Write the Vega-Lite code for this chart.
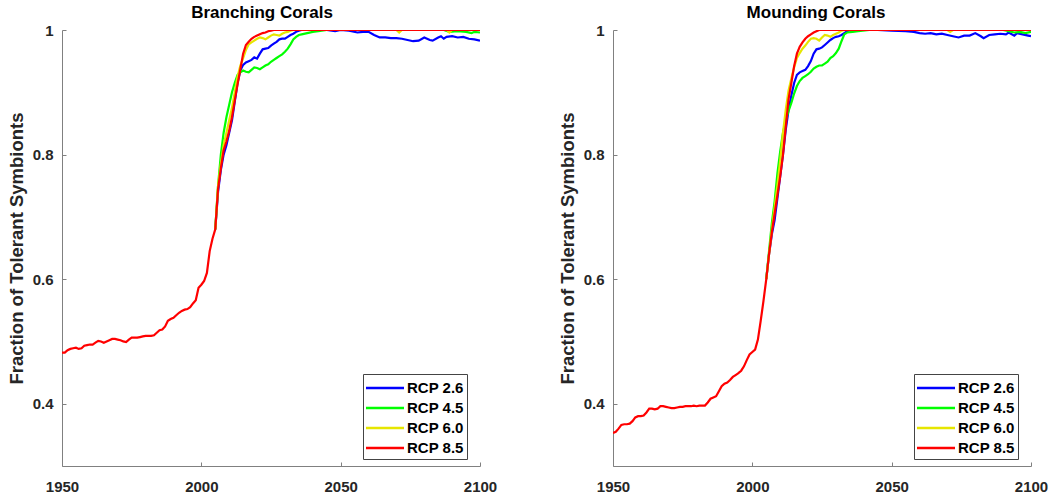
{
  "$schema": "https://vega.github.io/schema/vega-lite/v6.json",
  "padding": {"left": 7, "top": 4, "right": 5, "bottom": 2},
  "spacing": 61,
  "config": {
    "view": {"stroke": null},
    "font": "Liberation Sans",
    "axis": {
      "labelFont": "Liberation Sans", "labelFontWeight": "bold", "labelFontSize": 15, "labelColor": "#262626",
      "titleFont": "Liberation Sans", "titleFontWeight": "bold", "titleFontSize": 18.5, "titleColor": "#262626",
      "domainColor": "#808080", "tickColor": "#808080", "domainWidth": 1, "tickWidth": 1,
      "grid": false, "tickSize": -4, "labelFlush": false
    },
    "title": {"font": "Liberation Sans", "fontSize": 17, "fontWeight": "bold", "color": "#000000", "offset": 1},
    "legend": {
      "orient": "none", "legendX": 301, "legendY": 344, "title": null,
      "labelFont": "Liberation Sans", "labelFontWeight": "bold", "labelFontSize": 15, "labelColor": "#000000",
      "symbolType": "M-2,0H2", "symbolSize": 361, "symbolStrokeWidth": 2.5, "symbolOffset": 8,
      "strokeColor": "#444444", "fillColor": "#ffffff", "padding": 3, "rowPadding": 1, "labelOffset": 11
    }
  },
  "datasets": {
    "branching": [
      {"s":"RCP 2.6","year":2005,"v":0.680},{"s":"RCP 2.6","year":2006,"v":0.740},{"s":"RCP 2.6","year":2007,"v":0.775},{"s":"RCP 2.6","year":2008,"v":0.800},{"s":"RCP 2.6","year":2009,"v":0.815},{"s":"RCP 2.6","year":2010,"v":0.835},{"s":"RCP 2.6","year":2011,"v":0.855},{"s":"RCP 2.6","year":2012,"v":0.885},{"s":"RCP 2.6","year":2013,"v":0.915},{"s":"RCP 2.6","year":2014,"v":0.935},{"s":"RCP 2.6","year":2015,"v":0.944},{"s":"RCP 2.6","year":2016,"v":0.948},{"s":"RCP 2.6","year":2017,"v":0.950},{"s":"RCP 2.6","year":2018,"v":0.952},{"s":"RCP 2.6","year":2019,"v":0.956},{"s":"RCP 2.6","year":2020,"v":0.954},{"s":"RCP 2.6","year":2021,"v":0.962},{"s":"RCP 2.6","year":2022,"v":0.969},{"s":"RCP 2.6","year":2023,"v":0.970},{"s":"RCP 2.6","year":2024,"v":0.971},{"s":"RCP 2.6","year":2025,"v":0.975},{"s":"RCP 2.6","year":2026,"v":0.978},{"s":"RCP 2.6","year":2027,"v":0.981},{"s":"RCP 2.6","year":2028,"v":0.985},{"s":"RCP 2.6","year":2029,"v":0.986},{"s":"RCP 2.6","year":2030,"v":0.986},{"s":"RCP 2.6","year":2031,"v":0.989},{"s":"RCP 2.6","year":2032,"v":0.992},{"s":"RCP 2.6","year":2033,"v":0.994},{"s":"RCP 2.6","year":2034,"v":0.997},{"s":"RCP 2.6","year":2035,"v":0.999},{"s":"RCP 2.6","year":2036,"v":1.0},{"s":"RCP 2.6","year":2045,"v":1.0},{"s":"RCP 2.6","year":2048,"v":0.998},{"s":"RCP 2.6","year":2050,"v":1.0},{"s":"RCP 2.6","year":2053,"v":0.999},{"s":"RCP 2.6","year":2056,"v":0.996},{"s":"RCP 2.6","year":2058,"v":0.997},{"s":"RCP 2.6","year":2060,"v":0.997},{"s":"RCP 2.6","year":2062,"v":0.992},{"s":"RCP 2.6","year":2064,"v":0.988},{"s":"RCP 2.6","year":2066,"v":0.988},{"s":"RCP 2.6","year":2068,"v":0.987},{"s":"RCP 2.6","year":2070,"v":0.987},{"s":"RCP 2.6","year":2072,"v":0.986},{"s":"RCP 2.6","year":2074,"v":0.984},{"s":"RCP 2.6","year":2076,"v":0.982},{"s":"RCP 2.6","year":2078,"v":0.983},{"s":"RCP 2.6","year":2080,"v":0.988},{"s":"RCP 2.6","year":2082,"v":0.984},{"s":"RCP 2.6","year":2083,"v":0.983},{"s":"RCP 2.6","year":2085,"v":0.988},{"s":"RCP 2.6","year":2086,"v":0.990},{"s":"RCP 2.6","year":2087,"v":0.986},{"s":"RCP 2.6","year":2088,"v":0.989},{"s":"RCP 2.6","year":2090,"v":0.990},{"s":"RCP 2.6","year":2092,"v":0.988},{"s":"RCP 2.6","year":2094,"v":0.989},{"s":"RCP 2.6","year":2096,"v":0.986},{"s":"RCP 2.6","year":2098,"v":0.985},{"s":"RCP 2.6","year":2100,"v":0.983},
      {"s":"RCP 4.5","year":2005,"v":0.680},{"s":"RCP 4.5","year":2006,"v":0.750},{"s":"RCP 4.5","year":2007,"v":0.800},{"s":"RCP 4.5","year":2008,"v":0.835},{"s":"RCP 4.5","year":2009,"v":0.860},{"s":"RCP 4.5","year":2010,"v":0.880},{"s":"RCP 4.5","year":2011,"v":0.900},{"s":"RCP 4.5","year":2012,"v":0.915},{"s":"RCP 4.5","year":2013,"v":0.928},{"s":"RCP 4.5","year":2014,"v":0.932},{"s":"RCP 4.5","year":2015,"v":0.935},{"s":"RCP 4.5","year":2016,"v":0.933},{"s":"RCP 4.5","year":2017,"v":0.932},{"s":"RCP 4.5","year":2018,"v":0.936},{"s":"RCP 4.5","year":2019,"v":0.940},{"s":"RCP 4.5","year":2020,"v":0.939},{"s":"RCP 4.5","year":2021,"v":0.937},{"s":"RCP 4.5","year":2022,"v":0.940},{"s":"RCP 4.5","year":2023,"v":0.943},{"s":"RCP 4.5","year":2024,"v":0.945},{"s":"RCP 4.5","year":2025,"v":0.949},{"s":"RCP 4.5","year":2026,"v":0.952},{"s":"RCP 4.5","year":2027,"v":0.955},{"s":"RCP 4.5","year":2028,"v":0.958},{"s":"RCP 4.5","year":2029,"v":0.961},{"s":"RCP 4.5","year":2030,"v":0.965},{"s":"RCP 4.5","year":2031,"v":0.970},{"s":"RCP 4.5","year":2032,"v":0.977},{"s":"RCP 4.5","year":2033,"v":0.985},{"s":"RCP 4.5","year":2034,"v":0.989},{"s":"RCP 4.5","year":2035,"v":0.992},{"s":"RCP 4.5","year":2036,"v":0.993},{"s":"RCP 4.5","year":2038,"v":0.995},{"s":"RCP 4.5","year":2040,"v":0.997},{"s":"RCP 4.5","year":2042,"v":0.998},{"s":"RCP 4.5","year":2045,"v":1.0},{"s":"RCP 4.5","year":2087,"v":1.0},{"s":"RCP 4.5","year":2089,"v":0.997},{"s":"RCP 4.5","year":2092,"v":0.998},{"s":"RCP 4.5","year":2095,"v":0.997},{"s":"RCP 4.5","year":2097,"v":0.995},{"s":"RCP 4.5","year":2098,"v":0.997},{"s":"RCP 4.5","year":2100,"v":0.996},
      {"s":"RCP 6.0","year":2005,"v":0.680},{"s":"RCP 6.0","year":2006,"v":0.750},{"s":"RCP 6.0","year":2007,"v":0.785},{"s":"RCP 6.0","year":2008,"v":0.815},{"s":"RCP 6.0","year":2009,"v":0.835},{"s":"RCP 6.0","year":2010,"v":0.855},{"s":"RCP 6.0","year":2011,"v":0.875},{"s":"RCP 6.0","year":2012,"v":0.900},{"s":"RCP 6.0","year":2013,"v":0.925},{"s":"RCP 6.0","year":2014,"v":0.943},{"s":"RCP 6.0","year":2015,"v":0.955},{"s":"RCP 6.0","year":2016,"v":0.968},{"s":"RCP 6.0","year":2017,"v":0.977},{"s":"RCP 6.0","year":2018,"v":0.980},{"s":"RCP 6.0","year":2019,"v":0.983},{"s":"RCP 6.0","year":2020,"v":0.986},{"s":"RCP 6.0","year":2021,"v":0.988},{"s":"RCP 6.0","year":2022,"v":0.987},{"s":"RCP 6.0","year":2023,"v":0.985},{"s":"RCP 6.0","year":2024,"v":0.988},{"s":"RCP 6.0","year":2025,"v":0.991},{"s":"RCP 6.0","year":2026,"v":0.993},{"s":"RCP 6.0","year":2027,"v":0.992},{"s":"RCP 6.0","year":2028,"v":0.991},{"s":"RCP 6.0","year":2029,"v":0.994},{"s":"RCP 6.0","year":2030,"v":0.996},{"s":"RCP 6.0","year":2031,"v":0.997},{"s":"RCP 6.0","year":2032,"v":0.999},{"s":"RCP 6.0","year":2033,"v":1.0},{"s":"RCP 6.0","year":2070,"v":1.0},{"s":"RCP 6.0","year":2071,"v":0.996},{"s":"RCP 6.0","year":2072,"v":1.0},{"s":"RCP 6.0","year":2088,"v":1.0},{"s":"RCP 6.0","year":2089,"v":0.996},{"s":"RCP 6.0","year":2090,"v":1.0},{"s":"RCP 6.0","year":2100,"v":1.0},
      {"s":"RCP 8.5","year":1950,"v":0.482},{"s":"RCP 8.5","year":1951,"v":0.482},{"s":"RCP 8.5","year":1952,"v":0.486},{"s":"RCP 8.5","year":1953,"v":0.488},{"s":"RCP 8.5","year":1954,"v":0.489},{"s":"RCP 8.5","year":1955,"v":0.490},{"s":"RCP 8.5","year":1956,"v":0.488},{"s":"RCP 8.5","year":1957,"v":0.489},{"s":"RCP 8.5","year":1958,"v":0.493},{"s":"RCP 8.5","year":1959,"v":0.494},{"s":"RCP 8.5","year":1960,"v":0.495},{"s":"RCP 8.5","year":1961,"v":0.495},{"s":"RCP 8.5","year":1962,"v":0.498},{"s":"RCP 8.5","year":1963,"v":0.501},{"s":"RCP 8.5","year":1964,"v":0.500},{"s":"RCP 8.5","year":1965,"v":0.498},{"s":"RCP 8.5","year":1966,"v":0.500},{"s":"RCP 8.5","year":1967,"v":0.502},{"s":"RCP 8.5","year":1968,"v":0.504},{"s":"RCP 8.5","year":1969,"v":0.504},{"s":"RCP 8.5","year":1970,"v":0.503},{"s":"RCP 8.5","year":1971,"v":0.502},{"s":"RCP 8.5","year":1972,"v":0.500},{"s":"RCP 8.5","year":1973,"v":0.499},{"s":"RCP 8.5","year":1974,"v":0.503},{"s":"RCP 8.5","year":1975,"v":0.506},{"s":"RCP 8.5","year":1976,"v":0.506},{"s":"RCP 8.5","year":1977,"v":0.506},{"s":"RCP 8.5","year":1978,"v":0.507},{"s":"RCP 8.5","year":1979,"v":0.508},{"s":"RCP 8.5","year":1980,"v":0.509},{"s":"RCP 8.5","year":1981,"v":0.509},{"s":"RCP 8.5","year":1982,"v":0.509},{"s":"RCP 8.5","year":1983,"v":0.510},{"s":"RCP 8.5","year":1984,"v":0.514},{"s":"RCP 8.5","year":1985,"v":0.518},{"s":"RCP 8.5","year":1986,"v":0.519},{"s":"RCP 8.5","year":1987,"v":0.524},{"s":"RCP 8.5","year":1988,"v":0.533},{"s":"RCP 8.5","year":1989,"v":0.536},{"s":"RCP 8.5","year":1990,"v":0.538},{"s":"RCP 8.5","year":1991,"v":0.542},{"s":"RCP 8.5","year":1992,"v":0.546},{"s":"RCP 8.5","year":1993,"v":0.549},{"s":"RCP 8.5","year":1994,"v":0.551},{"s":"RCP 8.5","year":1995,"v":0.552},{"s":"RCP 8.5","year":1996,"v":0.555},{"s":"RCP 8.5","year":1997,"v":0.561},{"s":"RCP 8.5","year":1998,"v":0.566},{"s":"RCP 8.5","year":1999,"v":0.586},{"s":"RCP 8.5","year":2000,"v":0.591},{"s":"RCP 8.5","year":2001,"v":0.597},{"s":"RCP 8.5","year":2002,"v":0.610},{"s":"RCP 8.5","year":2003,"v":0.645},{"s":"RCP 8.5","year":2004,"v":0.665},{"s":"RCP 8.5","year":2005,"v":0.680},{"s":"RCP 8.5","year":2006,"v":0.745},{"s":"RCP 8.5","year":2007,"v":0.778},{"s":"RCP 8.5","year":2008,"v":0.807},{"s":"RCP 8.5","year":2009,"v":0.821},{"s":"RCP 8.5","year":2010,"v":0.838},{"s":"RCP 8.5","year":2011,"v":0.860},{"s":"RCP 8.5","year":2012,"v":0.887},{"s":"RCP 8.5","year":2013,"v":0.913},{"s":"RCP 8.5","year":2014,"v":0.937},{"s":"RCP 8.5","year":2015,"v":0.962},{"s":"RCP 8.5","year":2016,"v":0.976},{"s":"RCP 8.5","year":2017,"v":0.981},{"s":"RCP 8.5","year":2018,"v":0.986},{"s":"RCP 8.5","year":2019,"v":0.989},{"s":"RCP 8.5","year":2020,"v":0.991},{"s":"RCP 8.5","year":2021,"v":0.993},{"s":"RCP 8.5","year":2022,"v":0.995},{"s":"RCP 8.5","year":2023,"v":0.996},{"s":"RCP 8.5","year":2024,"v":0.998},{"s":"RCP 8.5","year":2025,"v":0.999},{"s":"RCP 8.5","year":2026,"v":1.0},{"s":"RCP 8.5","year":2060,"v":1.0},{"s":"RCP 8.5","year":2100,"v":1.0}
    ],
    "mounding": [
      {"s":"RCP 2.6","year":2005,"v":0.600},{"s":"RCP 2.6","year":2006,"v":0.640},{"s":"RCP 2.6","year":2007,"v":0.672},{"s":"RCP 2.6","year":2008,"v":0.695},{"s":"RCP 2.6","year":2009,"v":0.730},{"s":"RCP 2.6","year":2010,"v":0.765},{"s":"RCP 2.6","year":2011,"v":0.800},{"s":"RCP 2.6","year":2012,"v":0.840},{"s":"RCP 2.6","year":2013,"v":0.872},{"s":"RCP 2.6","year":2014,"v":0.895},{"s":"RCP 2.6","year":2015,"v":0.915},{"s":"RCP 2.6","year":2016,"v":0.928},{"s":"RCP 2.6","year":2017,"v":0.932},{"s":"RCP 2.6","year":2018,"v":0.934},{"s":"RCP 2.6","year":2019,"v":0.936},{"s":"RCP 2.6","year":2020,"v":0.942},{"s":"RCP 2.6","year":2021,"v":0.950},{"s":"RCP 2.6","year":2022,"v":0.962},{"s":"RCP 2.6","year":2023,"v":0.969},{"s":"RCP 2.6","year":2024,"v":0.970},{"s":"RCP 2.6","year":2025,"v":0.972},{"s":"RCP 2.6","year":2026,"v":0.976},{"s":"RCP 2.6","year":2027,"v":0.980},{"s":"RCP 2.6","year":2028,"v":0.984},{"s":"RCP 2.6","year":2029,"v":0.987},{"s":"RCP 2.6","year":2030,"v":0.989},{"s":"RCP 2.6","year":2031,"v":0.990},{"s":"RCP 2.6","year":2032,"v":0.992},{"s":"RCP 2.6","year":2033,"v":0.995},{"s":"RCP 2.6","year":2034,"v":0.998},{"s":"RCP 2.6","year":2035,"v":1.0},{"s":"RCP 2.6","year":2045,"v":1.0},{"s":"RCP 2.6","year":2050,"v":0.999},{"s":"RCP 2.6","year":2055,"v":0.998},{"s":"RCP 2.6","year":2058,"v":0.997},{"s":"RCP 2.6","year":2060,"v":0.995},{"s":"RCP 2.6","year":2062,"v":0.994},{"s":"RCP 2.6","year":2064,"v":0.995},{"s":"RCP 2.6","year":2066,"v":0.993},{"s":"RCP 2.6","year":2068,"v":0.994},{"s":"RCP 2.6","year":2070,"v":0.992},{"s":"RCP 2.6","year":2072,"v":0.990},{"s":"RCP 2.6","year":2074,"v":0.988},{"s":"RCP 2.6","year":2076,"v":0.991},{"s":"RCP 2.6","year":2078,"v":0.991},{"s":"RCP 2.6","year":2080,"v":0.995},{"s":"RCP 2.6","year":2082,"v":0.990},{"s":"RCP 2.6","year":2083,"v":0.987},{"s":"RCP 2.6","year":2085,"v":0.992},{"s":"RCP 2.6","year":2087,"v":0.993},{"s":"RCP 2.6","year":2089,"v":0.994},{"s":"RCP 2.6","year":2091,"v":0.993},{"s":"RCP 2.6","year":2092,"v":0.996},{"s":"RCP 2.6","year":2094,"v":0.991},{"s":"RCP 2.6","year":2095,"v":0.995},{"s":"RCP 2.6","year":2097,"v":0.993},{"s":"RCP 2.6","year":2099,"v":0.991},{"s":"RCP 2.6","year":2100,"v":0.990},
      {"s":"RCP 4.5","year":2005,"v":0.600},{"s":"RCP 4.5","year":2006,"v":0.645},{"s":"RCP 4.5","year":2007,"v":0.690},{"s":"RCP 4.5","year":2008,"v":0.725},{"s":"RCP 4.5","year":2009,"v":0.770},{"s":"RCP 4.5","year":2010,"v":0.805},{"s":"RCP 4.5","year":2011,"v":0.835},{"s":"RCP 4.5","year":2012,"v":0.855},{"s":"RCP 4.5","year":2013,"v":0.870},{"s":"RCP 4.5","year":2014,"v":0.883},{"s":"RCP 4.5","year":2015,"v":0.898},{"s":"RCP 4.5","year":2016,"v":0.910},{"s":"RCP 4.5","year":2017,"v":0.918},{"s":"RCP 4.5","year":2018,"v":0.923},{"s":"RCP 4.5","year":2019,"v":0.926},{"s":"RCP 4.5","year":2020,"v":0.929},{"s":"RCP 4.5","year":2021,"v":0.933},{"s":"RCP 4.5","year":2022,"v":0.938},{"s":"RCP 4.5","year":2023,"v":0.941},{"s":"RCP 4.5","year":2024,"v":0.943},{"s":"RCP 4.5","year":2025,"v":0.943},{"s":"RCP 4.5","year":2026,"v":0.946},{"s":"RCP 4.5","year":2027,"v":0.949},{"s":"RCP 4.5","year":2028,"v":0.955},{"s":"RCP 4.5","year":2029,"v":0.958},{"s":"RCP 4.5","year":2030,"v":0.963},{"s":"RCP 4.5","year":2031,"v":0.970},{"s":"RCP 4.5","year":2032,"v":0.982},{"s":"RCP 4.5","year":2033,"v":0.993},{"s":"RCP 4.5","year":2034,"v":0.996},{"s":"RCP 4.5","year":2036,"v":0.997},{"s":"RCP 4.5","year":2038,"v":0.998},{"s":"RCP 4.5","year":2042,"v":1.0},{"s":"RCP 4.5","year":2090,"v":1.0},{"s":"RCP 4.5","year":2092,"v":0.998},{"s":"RCP 4.5","year":2094,"v":0.996},{"s":"RCP 4.5","year":2096,"v":0.997},{"s":"RCP 4.5","year":2098,"v":0.995},{"s":"RCP 4.5","year":2100,"v":0.997},
      {"s":"RCP 6.0","year":2005,"v":0.600},{"s":"RCP 6.0","year":2006,"v":0.640},{"s":"RCP 6.0","year":2007,"v":0.680},{"s":"RCP 6.0","year":2008,"v":0.715},{"s":"RCP 6.0","year":2009,"v":0.750},{"s":"RCP 6.0","year":2010,"v":0.790},{"s":"RCP 6.0","year":2011,"v":0.835},{"s":"RCP 6.0","year":2012,"v":0.872},{"s":"RCP 6.0","year":2013,"v":0.903},{"s":"RCP 6.0","year":2014,"v":0.922},{"s":"RCP 6.0","year":2015,"v":0.940},{"s":"RCP 6.0","year":2016,"v":0.955},{"s":"RCP 6.0","year":2017,"v":0.963},{"s":"RCP 6.0","year":2018,"v":0.970},{"s":"RCP 6.0","year":2019,"v":0.975},{"s":"RCP 6.0","year":2020,"v":0.981},{"s":"RCP 6.0","year":2021,"v":0.986},{"s":"RCP 6.0","year":2022,"v":0.987},{"s":"RCP 6.0","year":2023,"v":0.986},{"s":"RCP 6.0","year":2024,"v":0.983},{"s":"RCP 6.0","year":2025,"v":0.988},{"s":"RCP 6.0","year":2026,"v":0.992},{"s":"RCP 6.0","year":2027,"v":0.991},{"s":"RCP 6.0","year":2028,"v":0.989},{"s":"RCP 6.0","year":2029,"v":0.992},{"s":"RCP 6.0","year":2030,"v":0.994},{"s":"RCP 6.0","year":2031,"v":0.996},{"s":"RCP 6.0","year":2032,"v":0.999},{"s":"RCP 6.0","year":2033,"v":1.0},{"s":"RCP 6.0","year":2070,"v":1.0},{"s":"RCP 6.0","year":2071,"v":0.997},{"s":"RCP 6.0","year":2072,"v":1.0},{"s":"RCP 6.0","year":2100,"v":1.0},
      {"s":"RCP 8.5","year":1950,"v":0.353},{"s":"RCP 8.5","year":1951,"v":0.355},{"s":"RCP 8.5","year":1952,"v":0.360},{"s":"RCP 8.5","year":1953,"v":0.366},{"s":"RCP 8.5","year":1954,"v":0.367},{"s":"RCP 8.5","year":1955,"v":0.367},{"s":"RCP 8.5","year":1956,"v":0.368},{"s":"RCP 8.5","year":1957,"v":0.372},{"s":"RCP 8.5","year":1958,"v":0.378},{"s":"RCP 8.5","year":1959,"v":0.380},{"s":"RCP 8.5","year":1960,"v":0.380},{"s":"RCP 8.5","year":1961,"v":0.381},{"s":"RCP 8.5","year":1962,"v":0.386},{"s":"RCP 8.5","year":1963,"v":0.392},{"s":"RCP 8.5","year":1964,"v":0.392},{"s":"RCP 8.5","year":1965,"v":0.391},{"s":"RCP 8.5","year":1966,"v":0.392},{"s":"RCP 8.5","year":1967,"v":0.396},{"s":"RCP 8.5","year":1968,"v":0.396},{"s":"RCP 8.5","year":1969,"v":0.395},{"s":"RCP 8.5","year":1970,"v":0.394},{"s":"RCP 8.5","year":1971,"v":0.393},{"s":"RCP 8.5","year":1972,"v":0.393},{"s":"RCP 8.5","year":1973,"v":0.394},{"s":"RCP 8.5","year":1974,"v":0.395},{"s":"RCP 8.5","year":1975,"v":0.395},{"s":"RCP 8.5","year":1976,"v":0.396},{"s":"RCP 8.5","year":1977,"v":0.396},{"s":"RCP 8.5","year":1978,"v":0.396},{"s":"RCP 8.5","year":1979,"v":0.397},{"s":"RCP 8.5","year":1980,"v":0.396},{"s":"RCP 8.5","year":1981,"v":0.397},{"s":"RCP 8.5","year":1982,"v":0.397},{"s":"RCP 8.5","year":1983,"v":0.397},{"s":"RCP 8.5","year":1984,"v":0.402},{"s":"RCP 8.5","year":1985,"v":0.408},{"s":"RCP 8.5","year":1986,"v":0.410},{"s":"RCP 8.5","year":1987,"v":0.412},{"s":"RCP 8.5","year":1988,"v":0.420},{"s":"RCP 8.5","year":1989,"v":0.428},{"s":"RCP 8.5","year":1990,"v":0.432},{"s":"RCP 8.5","year":1991,"v":0.434},{"s":"RCP 8.5","year":1992,"v":0.438},{"s":"RCP 8.5","year":1993,"v":0.443},{"s":"RCP 8.5","year":1994,"v":0.446},{"s":"RCP 8.5","year":1995,"v":0.449},{"s":"RCP 8.5","year":1996,"v":0.453},{"s":"RCP 8.5","year":1997,"v":0.460},{"s":"RCP 8.5","year":1998,"v":0.470},{"s":"RCP 8.5","year":1999,"v":0.479},{"s":"RCP 8.5","year":2000,"v":0.483},{"s":"RCP 8.5","year":2001,"v":0.487},{"s":"RCP 8.5","year":2002,"v":0.503},{"s":"RCP 8.5","year":2003,"v":0.533},{"s":"RCP 8.5","year":2004,"v":0.565},{"s":"RCP 8.5","year":2005,"v":0.600},{"s":"RCP 8.5","year":2006,"v":0.640},{"s":"RCP 8.5","year":2007,"v":0.675},{"s":"RCP 8.5","year":2008,"v":0.705},{"s":"RCP 8.5","year":2009,"v":0.735},{"s":"RCP 8.5","year":2010,"v":0.765},{"s":"RCP 8.5","year":2011,"v":0.800},{"s":"RCP 8.5","year":2012,"v":0.845},{"s":"RCP 8.5","year":2013,"v":0.889},{"s":"RCP 8.5","year":2014,"v":0.915},{"s":"RCP 8.5","year":2015,"v":0.942},{"s":"RCP 8.5","year":2016,"v":0.962},{"s":"RCP 8.5","year":2017,"v":0.973},{"s":"RCP 8.5","year":2018,"v":0.980},{"s":"RCP 8.5","year":2019,"v":0.986},{"s":"RCP 8.5","year":2020,"v":0.990},{"s":"RCP 8.5","year":2021,"v":0.993},{"s":"RCP 8.5","year":2022,"v":0.996},{"s":"RCP 8.5","year":2023,"v":0.998},{"s":"RCP 8.5","year":2024,"v":1.0},{"s":"RCP 8.5","year":2060,"v":1.0},{"s":"RCP 8.5","year":2100,"v":1.0}
    ]
  },
  "resolve": {"legend": {"color": "independent"}},
  "hconcat": [
    {
      "title": {"text": "Branching Corals", "dx": -9},
      "width": 418, "height": 436,
      "data": {"name": "branching"},
      "mark": {"type": "line", "strokeWidth": 2.2, "clip": true},
      "encoding": {
        "x": {"field": "year", "type": "quantitative", "scale": {"domain": [1950, 2100], "nice": false}, "axis": {"values": [1950, 2000, 2050, 2100], "format": "d", "title": null, "labelPadding": 17}},
        "y": {"field": "v", "type": "quantitative", "scale": {"domain": [0.3, 1], "nice": false, "zero": false}, "axis": {"values": [0.4, 0.6, 0.8, 1], "format": "~g", "title": "Fraction of Tolerant Symbionts", "labelPadding": 13, "titlePadding": 6}},
        "color": {"field": "s", "type": "nominal", "scale": {"domain": ["RCP 2.6", "RCP 4.5", "RCP 6.0", "RCP 8.5"], "range": ["#0000ff", "#00ff00", "#e6e600", "#ff0000"]}}
      }
    },
    {
      "title": {"text": "Mounding Corals", "dx": -6},
      "width": 418, "height": 436,
      "data": {"name": "mounding"},
      "mark": {"type": "line", "strokeWidth": 2.2, "clip": true},
      "encoding": {
        "x": {"field": "year", "type": "quantitative", "scale": {"domain": [1950, 2100], "nice": false}, "axis": {"values": [1950, 2000, 2050, 2100], "format": "d", "title": null, "labelPadding": 17}},
        "y": {"field": "v", "type": "quantitative", "scale": {"domain": [0.3, 1], "nice": false, "zero": false}, "axis": {"values": [0.4, 0.6, 0.8, 1], "format": "~g", "title": "Fraction of Tolerant Symbionts", "labelPadding": 13, "titlePadding": 6}},
        "color": {"field": "s", "type": "nominal", "scale": {"domain": ["RCP 2.6", "RCP 4.5", "RCP 6.0", "RCP 8.5"], "range": ["#0000ff", "#00ff00", "#e6e600", "#ff0000"]}}
      }
    }
  ]
}
